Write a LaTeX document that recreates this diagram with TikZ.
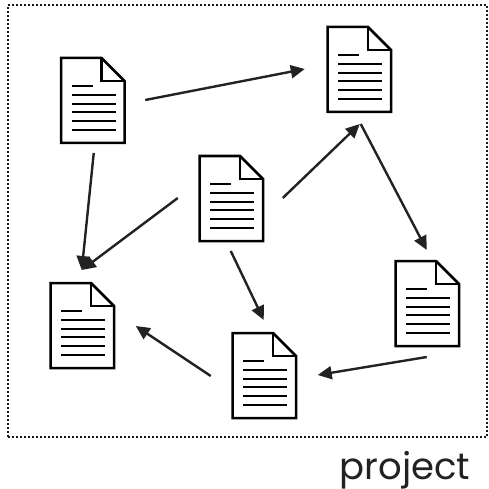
\documentclass[tikz,border=0pt]{standalone}
\usepackage{fontspec}
\setmainfont{Poppins}
\usetikzlibrary{arrows.meta}
\definecolor{ink}{HTML}{222222}
\tikzset{
  docbox/.style={minimum width=63.5pt,minimum height=85pt,inner sep=0pt,outer sep=0pt},
  docline/.style={line width=2.5pt,draw=black},
  textline/.style={line width=2.8pt,draw=black},
  conn/.style={line width=2.4pt,draw=ink,-{Triangle[length=14pt,width=13pt,fill=ink]}},
  frame/.style={line width=1.7pt,draw=black!90,dash pattern=on 1.6pt off 2.4pt},
}
\newcommand{\docu}[3]{%
  \node[docbox] (#1) at (#2+31.75,#3+42.5) {};
  \draw[docline,fill=white,line join=miter]
    (#1.north west) -- ++(40.5,0) -- (#1.north east |- 0,#3+23) -- (#1.south east) -- (#1.south west) -- cycle;
  \draw[docline] (#2+40.5,#3) -- (#2+40.5,#3+23) -- (#2+63.5,#3+23);
  \draw[textline] (#2+10.5,#3+28) -- (#2+31.5,#3+28);
  \foreach \yy in {37,46,54,63,72}{\draw[textline] (#2+10.5,#3+\yy) -- (#2+54.5,#3+\yy);}
}
\begin{document}
\begin{tikzpicture}[x=1pt,y=-1pt]
\useasboundingbox (0,0) rectangle (488,489);
\node[minimum width=479pt,minimum height=432pt,inner sep=0pt,outer sep=0pt,frame,draw] (box) at (247.5,221) {};
\docu{a}{61}{58}
\docu{b}{327.5}{27}
\docu{c}{199.5}{156}
\docu{d}{395.5}{261}
\docu{e}{232.5}{333}
\docu{f}{50.5}{283}
\draw[conn] ([shift={(52.5,-0.5)}]a.center) -- ([shift={(-54.5,-0.5)}]b.center);
\draw[conn] ([shift={(1,52.5)}]a.center) -- ([shift={(-0.5,-55.5)}]f.center);
\draw[conn] ([shift={(-53.5,-0.5)}]c.center) -- ([shift={(-0.5,-55.5)}]f.center);
\draw[conn] ([shift={(51.5,-0.5)}]c.center) -- ([shift={(0.5,54.5)}]b.center);
\draw[conn] ([shift={(1.5,54.5)}]b.center) -- ([shift={(-0.5,-53.5)}]d.center);
\draw[conn] ([shift={(-0.5,52.5)}]c.center) -- ([shift={(-0.5,-55.5)}]e.center);
\draw[conn] ([shift={(-0.5,53.5)}]d.center) -- ([shift={(53.5,-0.5)}]e.center);
\draw[conn] ([shift={(-53.5,0.5)}]e.center) -- ([shift={(53.5,0.5)}]f.center);
\node[anchor=base,font=\fontsize{37}{37}\selectfont,text=ink,inner sep=0pt] (lbl) at (405,479.5) {project};
\end{tikzpicture}
\end{document}
